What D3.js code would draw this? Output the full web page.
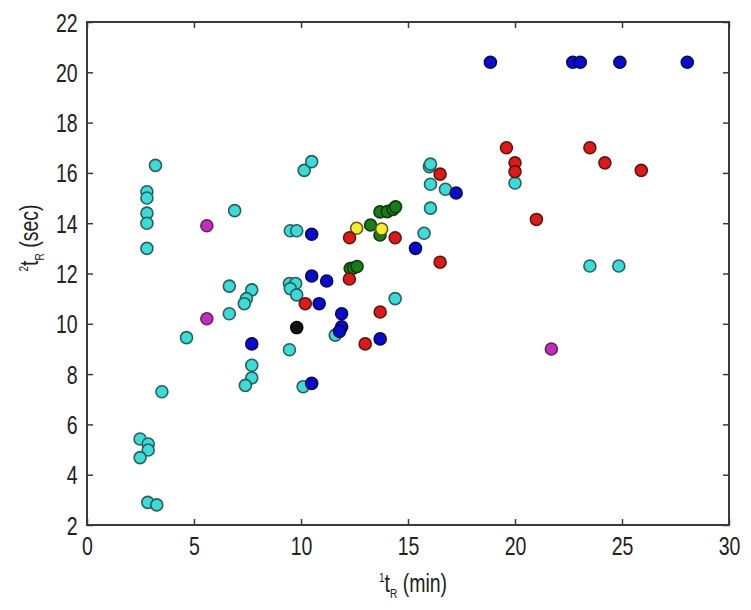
<!DOCTYPE html>
<html><head><meta charset="utf-8">
<script src="https://cdn.jsdelivr.net/npm/d3@7"></script>
<style>html,body{margin:0;padding:0;background:#fff;}svg{display:block;}</style>
</head><body>
<svg id="chart" width="751" height="610"></svg>
<script>
// ---- data (1tR in min, 2tR in sec) ----
const xTicks = [0, 5, 10, 15, 20, 25, 30];
const yTicks = [2, 4, 6, 8, 10, 12, 14, 16, 18, 20, 22];

const cyanPts = [
  [3.2,16.3],[2.8,15.25],[2.8,15.0],[2.8,14.4],[2.8,14.0],[2.8,13.0],
  [6.9,14.5],[9.5,13.7],[9.8,13.7],[10.15,16.1],[10.5,16.45],
  [6.65,11.5],[7.7,11.35],[7.45,11.0],[7.35,10.8],[6.65,10.4],
  [9.46,11.6],[9.75,11.6],[9.5,11.4],[9.8,11.15],
  [4.65,9.45],[9.46,8.97],[7.7,8.35],[7.7,7.85],[7.4,7.55],[10.1,7.5],
  [3.5,7.3],[2.48,5.42],[2.86,5.22],[2.86,4.98],[2.48,4.68],
  [2.84,2.9],[3.26,2.8],
  [16.0,16.25],[16.05,16.35],[16.05,15.55],[16.75,15.35],[16.05,14.6],[15.75,13.6],
  [20.0,15.6],[14.4,11.0],[11.6,9.55],[23.5,12.3],[24.85,12.3]
];
const magentaPts = [[5.6,13.9],[5.6,10.2],[21.7,9.0]];
const blackPts = [[9.8,9.85]];
const greenPts = [
  [13.25,13.93],[13.69,14.45],[14.03,14.46],[14.3,14.55],[14.42,14.65],
  [13.69,13.53],[12.3,12.2],[12.45,12.22],[12.62,12.28]
];
const yellowPts = [[12.6,13.8],[13.77,13.77]];
const redPts = [
  [19.6,17.0],[20.0,16.4],[20.0,16.05],[23.5,17.0],[24.2,16.4],[25.9,16.1],
  [21.0,14.15],[16.5,15.95],[16.5,12.45],[14.4,13.42],[12.27,13.42],
  [12.26,11.78],[10.2,10.8],[13.7,10.47],[13.0,9.2]
];
const bluePts = [
  [18.85,20.4],[22.7,20.4],[23.05,20.4],[24.9,20.4],[28.05,20.4],
  [10.5,13.56],[10.5,11.9],[11.2,11.7],[10.85,10.8],[11.9,10.4],
  [11.9,9.88],[11.8,9.7],[7.7,9.2],[13.7,9.4],[10.5,7.63],
  [15.35,13.0],[17.25,15.2]
];

const series = [
  {pts: cyanPts, fill: "#38dcd8", stroke: "#2f5e58"},
  {pts: magentaPts, fill: "#c42cc0", stroke: "#5a2a55"},
  {pts: blackPts, fill: "#111111", stroke: "#000"},
  {pts: greenPts, fill: "#177d17", stroke: "#103a10"},
  {pts: yellowPts, fill: "#f2ee2a", stroke: "#5c5a20"},
  {pts: redPts, fill: "#e01818", stroke: "#5a1a14"},
  {pts: bluePts, fill: "#0a0ad0", stroke: "#0a0a50"}
];

// ---- layout ----
const L = 87, R = 729, T = 22, B = 525;
const svg = d3.select("#chart");
const x = d3.scaleLinear().domain([0, 30]).range([L, R]);
const y = d3.scaleLinear().domain([2, 22]).range([B, T]);

const font = "'Liberation Sans', Arial, sans-serif";
const fs = 25, sx = 0.78;

// frame
svg.append("rect").attr("x", L).attr("y", T).attr("width", R - L).attr("height", B - T)
  .attr("fill", "none").attr("stroke", "#3a3a3a").attr("stroke-width", 2);

function styleAxis(g, labels) {
  g.select(".domain").remove();
  g.selectAll(".tick line").attr("stroke", "#3a3a3a").attr("stroke-width", 1.5);
  if (!labels) g.selectAll(".tick text").remove();
  else g.selectAll(".tick text").attr("font-family", font).attr("font-size", fs).attr("fill", "#222");
}

const gxb = svg.append("g").attr("transform", `translate(0,${B})`)
  .call(d3.axisBottom(x).tickValues(xTicks).tickSizeInner(-6).tickSizeOuter(0).tickPadding(12).tickFormat(d3.format("d")));
styleAxis(gxb, true);
gxb.selectAll(".tick text").attr("transform", `scale(${sx},1)`);

const gxt = svg.append("g").attr("transform", `translate(0,${T})`)
  .call(d3.axisTop(x).tickValues(xTicks).tickSizeInner(-6).tickSizeOuter(0));
styleAxis(gxt, false);

const gyl = svg.append("g").attr("transform", `translate(${L},0)`)
  .call(d3.axisLeft(y).tickValues(yTicks).tickSizeInner(-6).tickSizeOuter(0).tickPadding(12).tickFormat(d3.format("d")));
styleAxis(gyl, true);
gyl.selectAll(".tick text").attr("transform", `scale(${sx},1)`).attr("dy", "0.36em");

const gyr = svg.append("g").attr("transform", `translate(${R},0)`)
  .call(d3.axisRight(y).tickValues(yTicks).tickSizeInner(-6).tickSizeOuter(0));
styleAxis(gyr, false);

// points
const plot = svg.append("g");
series.forEach(s => {
  plot.append("g").selectAll("circle").data(s.pts).join("circle")
    .attr("cx", d => x(d[0])).attr("cy", d => y(d[1])).attr("r", 6)
    .attr("fill", s.fill).attr("stroke", s.stroke).attr("stroke-width", 1.6);
});

// axis labels
const xl = svg.append("text").attr("font-family", font).attr("font-size", fs).attr("fill", "#222")
  .attr("text-anchor", "middle")
  .attr("transform", `translate(${(L + R) / 2 + 5},${592}) scale(${sx},1)`);
xl.append("tspan").attr("font-size", 13).attr("dy", -10).text("1");
xl.append("tspan").attr("dy", 10).text("t");
xl.append("tspan").attr("font-size", 13).attr("dy", 6).text("R");
xl.append("tspan").attr("dy", -6).text(" (min)");

const yl = svg.append("text").attr("font-family", font).attr("font-size", fs).attr("fill", "#222")
  .attr("text-anchor", "middle")
  .attr("transform", `translate(38,${238}) rotate(-90) scale(${sx},1)`);
yl.append("tspan").attr("font-size", 13).attr("dy", -10).text("2");
yl.append("tspan").attr("dy", 10).text("t");
yl.append("tspan").attr("font-size", 13).attr("dy", 6).text("R");
yl.append("tspan").attr("dy", -6).text(" (sec)");
</script>
</body></html>
